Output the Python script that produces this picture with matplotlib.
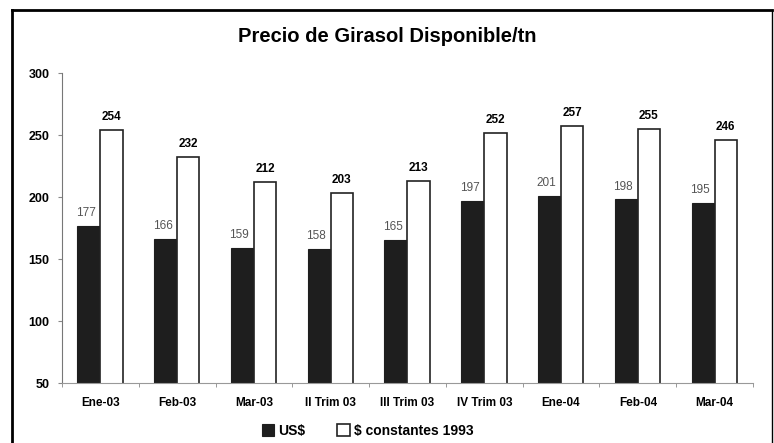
import numpy as np
import matplotlib.pyplot as plt
from matplotlib.lines import Line2D

plt.rcParams['font.family'] = ['Liberation Sans', 'DejaVu Sans']

categorias = ["Ene-03", "Feb-03", "Mar-03", "II Trim 03", "III Trim 03",
              "IV Trim 03", "Ene-04", "Feb-04", "Mar-04"]
usd = [177, 166, 159, 158, 165, 197, 201, 198, 195]
constantes = [254, 232, 212, 203, 213, 252, 257, 255, 246]

fig = plt.figure(figsize=(7.74, 4.43), dpi=100)
ax = fig.add_axes([62/774, 60/443, 691/774, 310/443])

x = np.arange(len(categorias))
w = 0.29
b1 = ax.bar(x - w/2 - 0.01, usd, w, bottom=0, color="#1e1e1e", edgecolor="#1e1e1e",
            linewidth=0.8, label="US$")
b2 = ax.bar(x + w/2, constantes, w, color="white", edgecolor="#222222",
            linewidth=1.2, label="$ constantes 1993")

for xi, v in zip(x, usd):
    ax.annotate(str(v), (xi - w/2 - 0.01, v), xytext=(-2, 5), textcoords="offset points",
                ha="center", va="bottom", fontsize=8.5, color="#555555")
for xi, v in zip(x, constantes):
    ax.annotate(str(v), (xi + w/2, v), xytext=(0, 5), textcoords="offset points",
                ha="center", va="bottom", fontsize=8.5, fontweight="bold", color="black")

ax.set_ylim(50, 300)
ax.set_xlim(-0.5, len(categorias) - 0.5)
ax.set_yticks([50, 100, 150, 200, 250, 300])
ax.set_xticks(x)
ax.set_xticklabels(categorias, fontsize=8.5, fontweight="bold")
ax.set_xticks(np.arange(-0.5, len(categorias)), minor=True)
ax.tick_params(axis="x", which="major", length=0, pad=10)
ax.tick_params(axis="x", which="minor", length=3, color="#888888")
ax.tick_params(axis="y", length=3, color="#888888", labelsize=9, pad=6)
for t in ax.get_yticklabels():
    t.set_fontweight("bold")

for s in ["top", "right"]:
    ax.spines[s].set_visible(False)
ax.spines["left"].set_color("#777777")
ax.spines["bottom"].set_color("#999999")

fig.text(0.5, 1 - 36/443, "Precio de Girasol Disponible/tn", ha="center", va="center",
         fontsize=14.5, fontweight="bold")

fig.legend(handles=[b1, b2], loc="center", bbox_to_anchor=(0.475, 0.027), ncol=2,
           frameon=False, prop={"size": 10, "weight": "bold"}, handlelength=0.9,
           handleheight=0.9, columnspacing=2.3, handletextpad=0.3)

# marco
fig.add_artist(Line2D([12/774, 12/774], [0, 1 - 10/443], color="black", lw=2))
fig.add_artist(Line2D([12/774, 772/774], [1 - 10/443, 1 - 10/443], color="black", lw=2))
fig.add_artist(Line2D([772/774, 772/774], [0, 1 - 10/443], color="black", lw=1))

fig.savefig("out.png", dpi=100)
